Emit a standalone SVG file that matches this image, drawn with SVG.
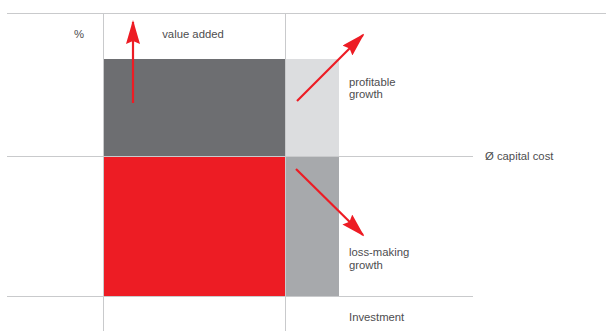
<svg xmlns="http://www.w3.org/2000/svg" width="606" height="331" viewBox="0 0 606 331">
  <style>
    .grid { stroke: #c9cacc; stroke-width: 1; fill: none; }
    .lbl { font-family: "Liberation Sans", Arial, sans-serif; font-size: 11.3px; fill: #4d4d4f; }
    .arrow { stroke: #ed1c24; stroke-width: 2.2; fill: none; marker-end: url(#head); }
  </style>
  <defs>
    <!-- swept-back arrowhead, sized in user units -->
    <marker id="head" viewBox="0 0 24 14" refX="22" refY="7" markerWidth="24" markerHeight="14" markerUnits="userSpaceOnUse" orient="auto">
      <path d="M0,0 L24,7 L0,14 L3,7 Z" fill="#ed1c24"/>
    </marker>
  </defs>

  <!-- quadrant fills -->
  <g id="value-block">
    <rect x="103" y="59" width="182" height="97.5" fill="#6d6e71"/>
  </g>
  <g id="profitable-block">
    <rect x="285" y="59" width="54" height="97.5" fill="#dcdddf"/>
  </g>
  <g id="loss-block">
    <rect x="103" y="156.5" width="182" height="139.5" fill="#ed1c24"/>
  </g>
  <g id="loss-growth-block">
    <rect x="285" y="156.5" width="54" height="139.5" fill="#a7a9ac"/>
  </g>

  <!-- grid lines -->
  <g id="grid">
    <line class="grid" x1="7" y1="13.5" x2="606" y2="13.5"/>
    <line class="grid" x1="7" y1="156.5" x2="473" y2="156.5"/>
    <line class="grid" x1="7" y1="296.5" x2="473" y2="296.5"/>
    <line class="grid" x1="103.5" y1="13.5" x2="103.5" y2="331"/>
    <line class="grid" x1="285.5" y1="13.5" x2="285.5" y2="331"/>
  </g>

  <!-- labels -->
  <g id="labels">
    <text class="lbl" x="84" y="38" text-anchor="end">%</text>
    <text class="lbl" x="193" y="38" text-anchor="middle">value added</text>
    <text class="lbl" x="349" y="86">profitable</text>
    <text class="lbl" x="349" y="98">growth</text>
    <text class="lbl" x="485" y="160">Ø capital cost</text>
    <text class="lbl" x="349" y="256">loss-making</text>
    <text class="lbl" x="349" y="269">growth</text>
    <text class="lbl" x="349" y="321">Investment</text>
  </g>

  <!-- arrows -->
  <g id="connectors">
    <line class="arrow" x1="133" y1="103" x2="133" y2="22"/>
    <line class="arrow" x1="297" y1="101" x2="363" y2="35"/>
    <line class="arrow" x1="296" y1="169" x2="363" y2="235"/>
  </g>
</svg>
